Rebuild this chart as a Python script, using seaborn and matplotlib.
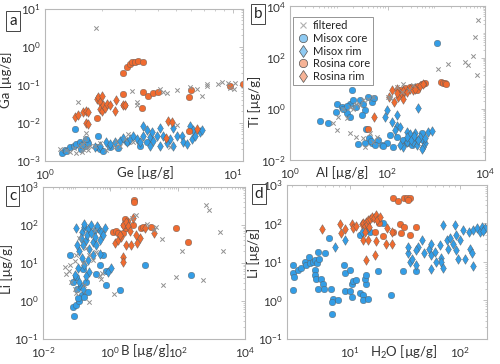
import numpy as np
import pandas as pd
import seaborn as sns
import matplotlib.pyplot as plt
from matplotlib.lines import Line2D
from matplotlib.ticker import LogLocator, NullFormatter

sns.set_theme(style='white')
plt.rcParams['font.family'] = ['Lato', 'DejaVu Sans']
plt.rcParams['mathtext.fontset'] = 'custom'
plt.rcParams['mathtext.rm'] = 'Lato'
plt.rcParams['mathtext.it'] = 'Lato'

# ---- panel a : Ge vs Ga ----
a_filt_ge = [1.87, 1.50, 2.89, 3.07, 3.07, 4.09, 4.26, 4.44, 5.01, 5.9, 6.4, 6.8, 7.25, 7.25, 8.36,
             8.7, 9.4, 9.6, 10.3, 10.1, 5.01, 2.95, 2.51, 2.36, 4.62, 1.30, 1.36, 1.42, 1.53, 1.57,
             1.60, 1.63, 1.65, 1.68, 1.70, 1.47, 1.73, 1.85, 2.11, 1.96, 2.40, 2.78, 2.66, 1.20, 1.62, 1.58]
a_filt_ga = [3.1, 0.036, 0.067, 0.035, 0.029, 0.079, 0.064, 0.062, 0.075, 0.087, 0.079, 0.050, 0.106, 0.092, 0.106,
             0.118, 0.11, 0.082, 0.11, 0.078, 0.0089, 0.0031, 0.0024, 0.0023, 0.0023, 0.0019, 0.0017, 0.0022, 0.0025, 0.0017,
             0.0020, 0.0040, 0.0055, 0.0023, 0.0019, 0.0016, 0.0025, 0.0025, 0.0019, 0.0030, 0.0034, 0.0051, 0.0038, 0.0020, 0.0032, 0.0028]
a_mc_ge = [1.23, 1.28, 1.30, 1.36, 1.42, 1.44, 1.47, 1.53, 1.60, 1.63, 1.67, 1.70, 1.88, 1.92, 1.96, 2.04,
           2.22, 2.45, 2.72, 3.20, 3.47, 1.55, 1.65, 1.58]
a_mc_ga = [0.00163, 0.00199, 0.00187, 0.00229, 0.00253, 0.0070, 0.0028, 0.0031, 0.0028, 0.0025, 0.0034, 0.0030,
           0.0023, 0.0045, 0.0021, 0.00187, 0.0023, 0.0022, 0.0031, 0.0025, 0.0031, 0.0021, 0.0038, 0.0026]
a_mr_ge = [1.85, 1.96, 2.11, 2.22, 2.36, 2.51, 2.61, 2.72, 2.83, 2.95, 3.07, 3.20, 3.31, 3.34, 3.47, 3.62, 3.77,
           3.93, 4.09, 4.26, 4.44, 4.62, 4.81, 5.01, 5.33, 5.44, 5.67, 5.90, 6.03, 6.15, 6.28, 6.67, 6.81, 4.81,
           3.62, 4.09, 3.70]
a_mr_ga = [0.0023, 0.0025, 0.0032, 0.0028, 0.0032, 0.0034, 0.0039, 0.0031, 0.0038, 0.0046, 0.0038, 0.0032, 0.0085,
           0.0046, 0.0063, 0.0042, 0.0034, 0.0046, 0.0072, 0.0044, 0.0030, 0.0038, 0.0025, 0.0046, 0.0046, 0.0031,
           0.0028, 0.0085, 0.0038, 0.0063, 0.0045, 0.0057, 0.0063, 0.0072, 0.0025, 0.0025, 0.0057]
a_rc_ge = [2.61, 2.72, 2.82, 2.89, 3.01, 3.14, 3.31, 2.61, 2.64, 3.27, 3.33, 3.55, 3.77, 4.0, 5.83, 5.98, 9.6, 11.3, 1.88, 5.86]
a_rc_ga = [0.207, 0.29, 0.36, 0.40, 0.41, 0.42, 0.40, 0.058, 0.029, 0.025, 0.064, 0.052, 0.060, 0.064, 0.047, 0.075,
           0.092, 0.102, 0.0135, 0.006]
a_rr_ge = [1.44, 1.50, 1.60, 1.65, 1.70, 1.65, 1.70, 1.88, 1.92, 1.96, 1.96, 2.00, 2.04, 2.08, 2.13, 2.22, 2.36,
           2.00, 2.40, 2.61, 2.66, 4.53, 4.72, 6.41, 4.40]
a_rr_ga = [0.0141, 0.0163, 0.0191, 0.0199, 0.0191, 0.0100, 0.0094, 0.043, 0.047, 0.035, 0.023, 0.021, 0.029, 0.024,
           0.032, 0.029, 0.021, 0.050, 0.039, 0.030, 0.029, 0.0115, 0.0108, 0.0070, 0.0039]

# ---- panel b : Al vs Ti ----
b_filt_al = [7244, 6166, 5623, 6761, 4571, 3802, 1778, 1096, 110, 100, 7.7, 9.4, 17, 22.6, 32, 35, 44, 51, 60,
             12.4, 17, 23, 32, 40, 51, 20, 27, 9.8, 14.5, 154, 210, 340, 270, 196, 112]
b_filt_ti = [2840, 610, 112, 20.5, 50, 65, 55, 35, 2.75, 3.0, 0.27, 0.148, 0.11, 0.081, 0.07, 0.033, 0.11, 0.05, 0.081,
             0.95, 1.2, 1.6, 2.2, 2.5, 2.9, 0.95, 1.4, 0.5, 0.45, 6.8, 9.7, 8.4, 5.6, 4.6, 2.9]
b_mc_al = [4.1, 6.1, 8.8, 9.4, 11.5, 14.5, 18.4, 17, 20, 23, 27, 32, 40, 48, 53, 35, 29.6, 17, 12.4, 15, 25, 35, 48,
           65, 76, 96, 112, 154, 210, 246, 290, 395, 540, 500, 37, 42, 80, 132, 320, 1020, 45, 55]
b_mc_ti = [0.34, 0.27, 0.76, 1.6, 1.2, 0.66, 5.4, 1.6, 2.2, 1.2, 2.2, 1.6, 2.9, 1.9, 2.7, 0.89, 0.56, 0.49, 0.95,
           1.3, 0.041, 0.046, 0.048, 0.06, 0.038, 0.048, 0.093, 0.081, 0.06, 0.046, 0.07, 0.06, 0.06, 0.11, 0.17,
           0.07, 0.035, 0.033, 0.04, 370, 0.055, 0.04]
b_mr_al = [96, 89, 154, 154, 142, 180, 125, 430, 246, 290, 365, 465, 590, 690, 810, 545, 400, 500, 210, 180, 246,
           330, 300, 600, 250, 350, 420]
b_mr_ti = [0.89, 0.46, 0.56, 0.21, 0.155, 0.2, 0.3, 1.12, 0.125, 0.1, 0.11, 0.08, 0.045, 0.126, 0.14, 0.034, 0.04,
           0.028, 0.033, 0.04, 0.05, 0.05, 0.06, 0.07, 0.08, 0.09, 0.06]
b_rc_al = [181, 229, 290, 365, 430, 500, 590, 395, 196, 540, 1230, 1400, 1500, 1620, 40]
b_rc_ti = [5.4, 6.3, 6.9, 7.3, 7.8, 8.9, 10.3, 5.4, 3.7, 9.5, 11.2, 10, 10.5, 9.5, 0.17]
b_rr_al = [105, 122, 154, 204, 246, 290, 330, 365, 465, 545, 167, 212, 133, 53, 160]
b_rr_ti = [2.9, 5.4, 6.2, 5.0, 4.7, 5.7, 5.4, 6.2, 7.6, 9, 2.9, 2.5, 1.9, 0.46, 4.0]

# ---- panel c : B vs Li ----
c_filt_b = [0.044, 0.049, 0.062, 0.087, 0.24, 0.52, 0.55, 0.50, 1.26, 36, 91, 138, 35, 560, 710, 850, 1780, 2240,
            12, 23, 19.5, 5.9, 4.5, 0.12, 0.19, 0.24, 0.15, 0.30, 0.38, 0.098, 0.098, 0.07, 0.17, 0.087, 0.058, 0.35]
c_filt_li = [7.8, 5.1, 8.6, 2.1, 0.93, 3.8, 5.5, 4.6, 1.55, 2.6, 4.3, 21, 42, 3.5, 330, 240, 65, 21, 107, 89, 73,
             178, 150, 45, 25, 16, 10, 12, 19, 16, 1.6, 3.1, 2.6, 11, 6.0, 75]
c_mc_b = [0.081, 0.079, 0.098, 0.12, 0.14, 0.10, 0.08, 0.062, 0.093, 0.15, 0.19, 0.38, 0.48, 0.73, 0.6, 0.76, 1.9,
          10.5, 257, 0.22, 0.17, 0.11, 0.13]
c_mc_li = [0.40, 0.68, 0.79, 1.0, 1.4, 2.1, 3.2, 16, 4.3, 6.8, 3.2, 5.1, 8.6, 2.6, 16, 6.0, 1.9, 8.6, 4.7, 1.7,
           1.25, 1.2, 2.5]
c_mr_b = [0.098, 0.14, 0.17, 0.22, 0.27, 0.34, 0.43, 0.54, 0.68, 0.19, 0.15, 0.12, 0.24, 0.30, 0.38, 0.48, 0.14,
          0.17, 0.11, 0.22, 0.30, 0.48, 0.24, 0.85, 1.07, 0.087, 0.12, 0.15, 0.19, 0.34, 0.60, 0.17, 0.20, 0.26,
          0.13, 0.10, 0.40]
c_mr_li = [80, 65, 89, 76, 98, 72, 80, 65, 83, 39, 29, 21, 23, 35, 29, 40, 13, 8.6, 7.1, 12, 16, 17, 5.7, 5.7, 7.3,
           4.7, 3.2, 2.1, 4.5, 48, 54, 107, 55, 60, 45, 30, 95]
c_rc_b = [5.2, 5.2, 4.7, 8.3, 9.3, 16.6, 91, 204, 1.2, 1.5, 1.7, 2.4, 3.0, 2.6, 3.1, 2.7]
c_rc_li = [445, 390, 98, 80, 88, 85, 83, 35, 65, 70, 59, 59, 80, 100, 124, 145]
c_rr_b = [1.35, 1.7, 2.1, 3.0, 4.2, 6.0, 7.4, 10.5, 19.5, 5.9, 4.7, 2.3, 2.3, 2.4, 2.9, 3.4, 3.8, 1.9]
c_rr_li = [33, 40, 48, 29, 30, 34, 44, 80, 59, 54, 150, 14, 10.5, 98, 120, 93, 68, 55]

# ---- panel d : H2O vs Li ----
d_mc_h = [3.05, 3.05, 3.12, 3.05, 3.4, 3.6, 3.9, 4.0, 4.3, 4.4, 4.6, 4.8, 5.0, 5.2, 5.3, 4.8, 4.8, 4.9, 5.5, 5.7,
          5.2, 5.9, 6.5, 6.8, 6.0, 7.0, 6.9, 6.9, 7.8, 8.9, 9.0, 10, 9.0, 10.4, 10, 10.4, 10.7, 11.5, 12.3, 13.2,
          13.2, 14, 13.8, 14.7, 14.2, 18, 23.6, 30.5, 40, 15.2, 12.3, 20]
d_mc_li = [8.2, 5.0, 4.0, 1.9, 6.0, 6.9, 10, 8.2, 13.5, 9.1, 10, 11, 9.1, 18, 12, 6.0, 4.5, 3.7, 3.7, 2.7, 2.0,
           2.0, 41, 2.0, 16.6, 1.1, 0.92, 0.43, 1.05, 8.2, 5.0, 6.0, 1.8, 2.7, 1.8, 1.2, 3.1, 3.3, 1.6, 1.4, 1.0,
           2.7, 3.7, 1.1, 4.5, 5.7, 1.4, 5.7, 5.7, 60, 50, 100]
d_mr_h = [7.4, 9.0, 40, 35, 34, 34, 42, 45, 52, 55, 59, 66, 68, 68, 70, 76, 78, 81, 87, 93, 93, 96, 107, 112, 120,
          123, 128, 132, 142, 152, 160, 168, 163, 55, 70, 132, 40, 47, 55, 100, 90, 61, 12.8, 14.7, 37]
d_mr_li = [25, 37, 8.2, 10, 16.6, 25, 25, 37, 22, 15, 18, 27, 12.6, 10, 91, 37, 22, 41, 30, 50, 20, 12, 68, 12, 60,
           22, 17, 68, 74, 60, 81, 74, 65, 6.7, 6.8, 7.7, 20, 16.6, 30, 37, 90, 10, 60, 74, 12]
d_rc_h = [24.7, 27.6, 31, 33, 35, 34, 20, 28.5, 31, 29.3, 35, 39.8, 24.7, 17, 18.5]
d_rc_li = [470, 390, 470, 450, 470, 410, 48, 94, 82, 55, 51, 82, 60, 60, 100]
d_rr_h = [5.6, 8.2, 8.4, 9.0, 10.4, 10.7, 11.5, 12.8, 13.2, 13.8, 14.0, 14.4, 14.7, 15.4, 15.8, 16.5, 17.3, 17.8,
          18.7, 13.8, 13.2, 14.7, 14.2, 16.9, 17.5, 21.5, 24, 24, 22, 15]
d_rr_li = [71, 94, 55, 71, 94, 74, 87, 94, 100, 87, 110, 95, 123, 130, 150, 140, 165, 120, 150, 60, 37, 37, 11,
           15.5, 35, 30, 30, 60, 74, 80]

blue = '#339de6'
orange = '#f06b30'
edge = '#5a5a5a'
style = {
    'Misox core': dict(marker='o', color=blue, s=22, edgecolor=edge, linewidth=0.3),
    'Misox rim': dict(marker='d', color=blue, s=24, edgecolor=edge, linewidth=0.3),
    'Rosina core': dict(marker='o', color=orange, s=22, edgecolor=edge, linewidth=0.3),
    'Rosina rim': dict(marker='d', color=orange, s=24, edgecolor=edge, linewidth=0.3),
    'filtered': dict(marker='x', color='#909090', s=10, linewidth=0.7),
}
frame = '#b8b8b8'


def draw(ax, groups, xlim, ylim, xticks, yticks, xlabel, ylabel, xlab_pos, ylab_pos, letter):
    for name, (x, y) in groups.items():
        df = pd.DataFrame({'x': x, 'y': y})
        sns.scatterplot(data=df, x='x', y='y', ax=ax, legend=False, zorder=3 if name == 'filtered' else 2,
                        **style[name])
    ax.set_xscale('log')
    ax.set_yscale('log')
    ax.set_xlim(xlim)
    ax.set_ylim(ylim)
    ax.set_xticks(xticks)
    ax.set_yticks(yticks)
    ax.xaxis.set_minor_locator(LogLocator(base=10, subs=np.arange(2, 10), numticks=30))
    ax.yaxis.set_minor_locator(LogLocator(base=10, subs=np.arange(2, 10), numticks=30))
    ax.xaxis.set_minor_formatter(NullFormatter())
    ax.yaxis.set_minor_formatter(NullFormatter())
    ax.tick_params(which='both', direction='in', top=True, right=True, color=frame, labelcolor='#333333',
                   labelsize=8.5)
    ax.tick_params(axis='x', pad=4.5)
    ax.tick_params(axis='y', pad=3)
    ax.tick_params(which='major', length=3, width=0.6)
    ax.tick_params(which='minor', length=1.5, width=0.5)
    for sp in ax.spines.values():
        sp.set_color(frame)
        sp.set_linewidth(0.8)
    ax.set_xlabel(xlabel, fontsize=9.5, color='#333333')
    ax.set_ylabel(ylabel, fontsize=9.5, color='#333333')
    ax.xaxis.set_label_coords(*xlab_pos)
    ax.yaxis.set_label_coords(*ylab_pos)
    ax.text(letter[1], letter[2], letter[0], transform=ax.transAxes, fontsize=11, color='#222222',
            ha='center', va='center',
            bbox=dict(boxstyle='square,pad=0.2', fc='white', ec='#444444', lw=0.7))


fig = plt.figure(figsize=(5, 3.64), dpi=100)
ax_a = fig.add_axes([0.090, 0.558, 0.396, 0.418])
ax_b = fig.add_axes([0.580, 0.560, 0.390, 0.423])
ax_c = fig.add_axes([0.086, 0.069, 0.404, 0.418])
ax_d = fig.add_axes([0.574, 0.069, 0.400, 0.423])

draw(ax_a, {'Misox core': (a_mc_ge, a_mc_ga), 'Misox rim': (a_mr_ge, a_mr_ga),
            'Rosina core': (a_rc_ge, a_rc_ga), 'Rosina rim': (a_rr_ge, a_rr_ga),
            'filtered': (a_filt_ge, a_filt_ga)},
     (1, 11.3), (1e-3, 1e1), [1, 10], [1e-3, 1e-2, 1e-1, 1, 10],
     'Ge [µg/g]', 'Ga [µg/g]', (0.505, -0.035), (-0.165, 0.53), ('a', -0.16, 0.92))

draw(ax_b, {'Misox core': (b_mc_al, b_mc_ti), 'Misox rim': (b_mr_al, b_mr_ti),
            'Rosina core': (b_rc_al, b_rc_ti), 'Rosina rim': (b_rr_al, b_rr_ti),
            'filtered': (b_filt_al, b_filt_ti)},
     (1, 1e4), (1e-2, 1e4), [1, 1e2, 1e4], [1e-2, 1, 1e2, 1e4],
     'Al [µg/g]', 'Ti [µg/g]', (0.27, -0.035), (-0.15, 0.38), ('b', -0.165, 0.95))

draw(ax_c, {'Misox core': (c_mc_b, c_mc_li), 'Misox rim': (c_mr_b, c_mr_li),
            'Rosina core': (c_rc_b, c_rc_li), 'Rosina rim': (c_rr_b, c_rr_li),
            'filtered': (c_filt_b, c_filt_li)},
     (1e-2, 1e4), (1e-1, 1e3), [1e-2, 1, 1e2, 1e4], [1e-1, 1, 10, 1e2, 1e3],
     'B [µg/g]', 'Li [µg/g]', (0.505, -0.035), (-0.15, 0.46), ('c', -0.15, 0.94))

draw(ax_d, {'Misox core': (d_mc_h, d_mc_li), 'Misox rim': (d_mr_h, d_mr_li),
            'Rosina core': (d_rc_h, d_rc_li), 'Rosina rim': (d_rr_h, d_rr_li)},
     (2.7, 176), (1e-1, 1e3), [10, 100], [1e-1, 1, 10, 1e2, 1e3],
     'H$_2$O [µg/g]', 'Li [µg/g]', (0.585, -0.035), (-0.135, 0.56), ('d', -0.14, 0.94))

# legend in panel b with faded markers
light_blue = '#8fcaf2'
light_orange = '#f6b396'
handles = [
    Line2D([], [], ls='none', marker='x', color='#b0b0b0', markersize=4, mew=0.8),
    Line2D([], [], ls='none', marker='o', mfc=light_blue, mec='#555555', markersize=6, mew=0.5),
    Line2D([], [], ls='none', marker='d', mfc=light_blue, mec='#555555', markersize=6.5, mew=0.5),
    Line2D([], [], ls='none', marker='o', mfc=light_orange, mec='#555555', markersize=6, mew=0.5),
    Line2D([], [], ls='none', marker='d', mfc=light_orange, mec='#555555', markersize=6.5, mew=0.5),
]
labels = ['filtered', 'Misox core', 'Misox rim', 'Rosina core', 'Rosina rim']
leg = ax_b.legend(handles, labels, loc='upper left', bbox_to_anchor=(0.015, 0.93), fontsize=8,
                  frameon=True, fancybox=False, edgecolor='#666666', borderpad=0.3, labelspacing=0.15,
                  handletextpad=0.3, handlelength=1.2, borderaxespad=0)
leg.get_frame().set_linewidth(0.6)
for t in leg.get_texts():
    t.set_color('#222222')

fig.savefig('out.png', dpi=100)
